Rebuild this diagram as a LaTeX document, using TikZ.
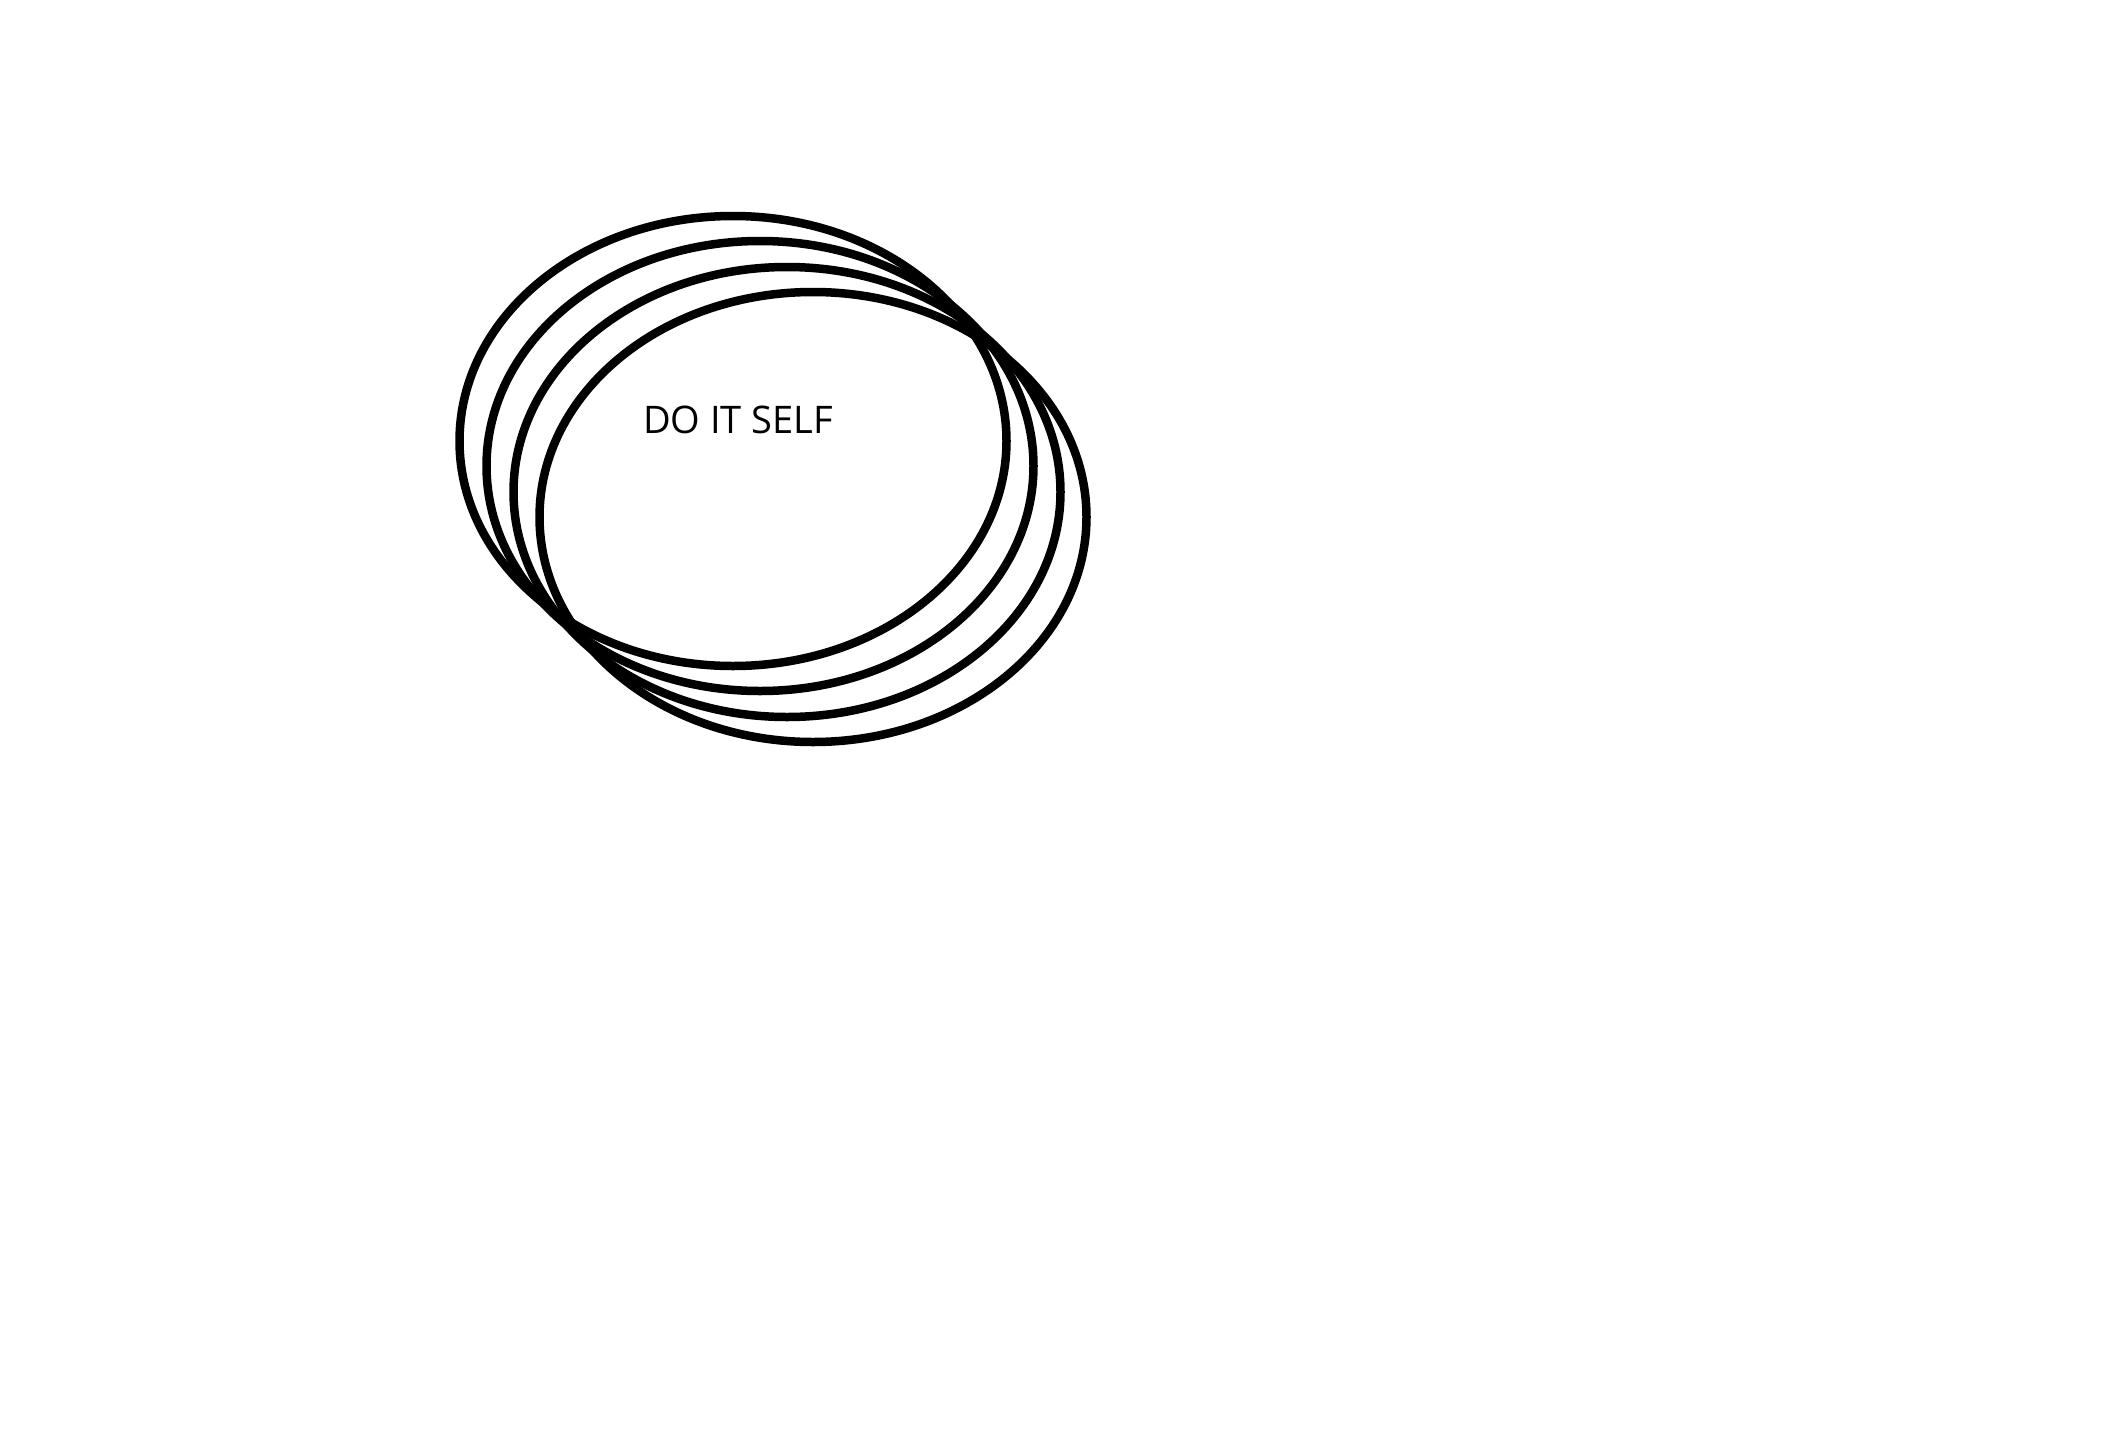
\documentclass[tikz,border=0pt]{standalone}
\usepackage{fontspec}
\setmainfont{Open Sans}
\begin{document}
\begin{tikzpicture}[x=1pt,y=-1pt,
  ring/.style={draw=black,line width=8.5pt},
  label/.style={font=\fontsize{38}{46}\selectfont,inner sep=0pt,anchor=center}]
\useasboundingbox[fill=white] (0,0) rectangle (2110,1440);
\draw[ring] (733,441) ellipse [x radius=273.5,y radius=225];
\draw[ring] (760,466) ellipse [x radius=273.5,y radius=225];
\draw[ring] (787,492) ellipse [x radius=273.5,y radius=225];
\draw[ring] (813,517) ellipse [x radius=273.5,y radius=225];
\node[label] (t) at (738,420) {DO IT SELF};
\end{tikzpicture}
\end{document}
